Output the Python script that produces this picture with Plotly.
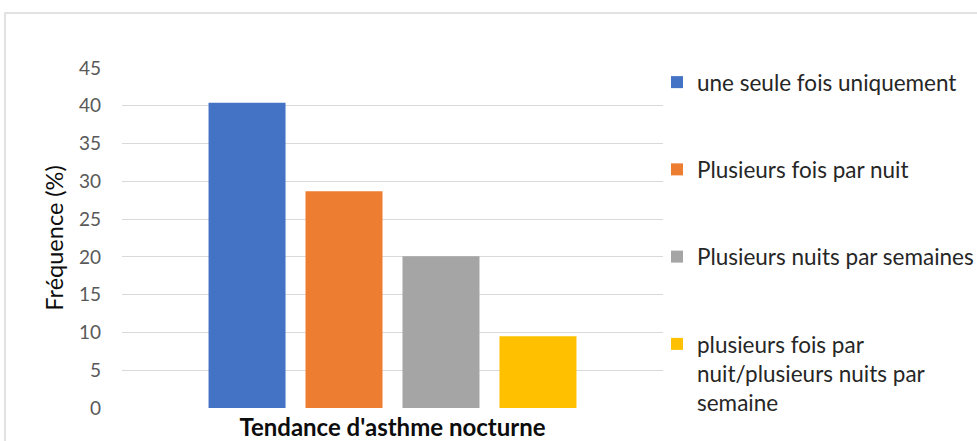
import plotly.graph_objects as go

category = ["Tendance d'asthme nocturne"]
series_names = [
    "une seule fois uniquement",
    "Plusieurs fois par nuit",
    "Plusieurs nuits par semaines",
    "plusieurs fois par<br>nuit/plusieurs nuits par<br>semaine",
]
series_values = [40.4, 28.7, 20.1, 9.5]
colors = ["#4472C4", "#ED7D31", "#A5A5A5", "#FFC000"]
y_ticks = [0, 5, 10, 15, 20, 25, 30, 35, 40, 45]

FONT = "Lato, Carlito, Calibri, sans-serif"

fig = go.Figure()
for i, (name, val, col) in enumerate(zip(series_names, series_values, colors)):
    fig.add_trace(go.Bar(
        x=[""], y=[val], name=name, marker=dict(color=col, line=dict(width=0)),
        legendgroup=f"g{i}",
    ))

L, R, T, B = 122, 314, 68, 33
W, H = 977, 441
pw, ph = W - L - R, H - T - B

fig.update_layout(
    width=W, height=H,
    margin=dict(l=L, r=R, t=T, b=B, pad=0, autoexpand=False),
    paper_bgcolor="white", plot_bgcolor="white",
    barmode="group", bargap=0.283, bargroupgap=0.206,
    font=dict(family=FONT, color="#595959", size=16),
    showlegend=True,
    legend=dict(
        x=(657 - L) / pw, xanchor="left", y=(H - B - 61) / ph, yanchor="top",
        traceorder="grouped", tracegroupgap=55, valign="top",
        font=dict(family=FONT, size=22.5, color="#262626"),
        bgcolor="rgba(0,0,0,0)", itemwidth=30, maxheight=430,
    ),
    xaxis=dict(
        showticklabels=False, showgrid=False, zeroline=False, showline=False,
        range=[-0.5, 0.5], automargin=False,
        title=dict(text="<b>Tendance d'asthme nocturne</b>", standoff=12,
                   font=dict(family=FONT, size=24, color="#0d0d0d")),
    ),
    yaxis=dict(
        range=[0, 45], tickvals=y_ticks, showgrid=True, gridcolor="#d9d9d9",
        gridwidth=1, zeroline=False, showline=False, ticks="",
        ticklabelstandoff=20, automargin=False,
        tickfont=dict(family=FONT, size=19, color="#595959"),
        title=dict(text="Fréquence (%)", standoff=8,
                   font=dict(family=FONT, size=23.5, color="#0d0d0d")),
    ),
    shapes=[dict(
        type="rect", xref="paper", yref="paper",
        x0=(5 - L) / pw, x1=2.0, y0=-1.0, y1=(H - B - 13) / ph,
        line=dict(color="#d9d9d9", width=1.5), fillcolor="rgba(0,0,0,0)", layer="below",
    )],
)

fig.write_html("out.html", config={"displayModeBar": False},
               post_script="document.body.style.margin='0';")
